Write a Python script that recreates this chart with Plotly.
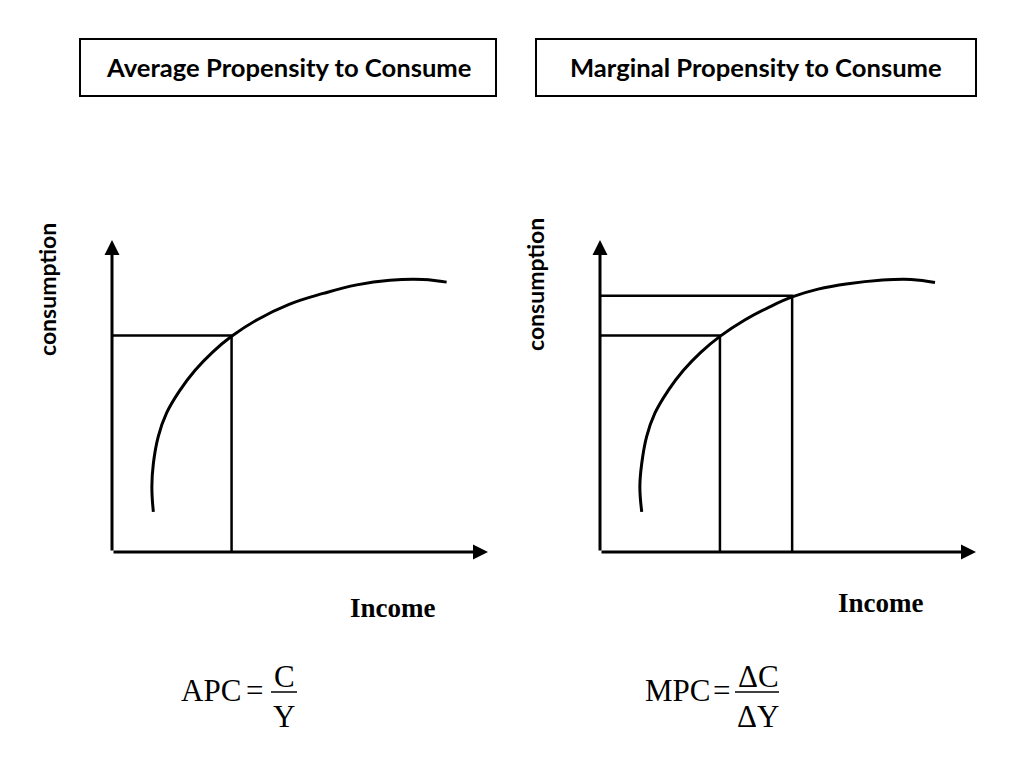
import plotly.graph_objects as go

# ---- data (diagram units: income on x, consumption on y) ----
apc_income = [1.10, 1.06, 1.10, 1.23, 1.45, 1.81, 2.21, 2.67, 3.18, 3.85, 4.71, 5.62, 6.51, 7.39, 8.28, 8.90]
apc_consumption = [1.03, 1.67, 2.27, 2.96, 3.56, 4.15, 4.66, 5.12, 5.53, 5.95, 6.35, 6.63, 6.85, 6.97, 6.99, 6.92]

mpc_income = [1.11, 1.06, 1.11, 1.24, 1.46, 1.82, 2.22, 2.68, 3.19, 3.85, 4.50, 5.11, 5.80, 6.60, 7.45, 8.28, 8.91]
mpc_consumption = [1.03, 1.67, 2.27, 2.96, 3.56, 4.15, 4.66, 5.12, 5.53, 5.95, 6.28, 6.54, 6.74, 6.88, 6.97, 6.99, 6.91]

apc_point = {"Y": 3.18, "C": 5.55}
mpc_points = [{"Y": 3.19, "C": 5.55}, {"Y": 5.11, "C": 6.57}]

axis_max = {"income": 10.0, "consumption": 8.0}

titles = ["Average Propensity to Consume", "Marginal Propensity to Consume"]
y_label = "consumption"
x_label = "Income"

# ---- figure ----
OFF = 8                      # page body margin
W, H = 1024 - 2 * OFF, 768 - 2 * OFF
PX_X, PX_Y = 37.6, 39.0      # pixels per unit
PAD = 0.5

def px(xp):
    return (xp - OFF) / W

def py(yp):
    return 1 - (yp - OFF) / H

def xdom(origin_px):
    return [px(origin_px - PAD * PX_X), px(origin_px + (axis_max["income"] + PAD) * PX_X)]

def ydom(origin_px):
    return [py(origin_px + PAD * PX_Y), py(origin_px - (axis_max["consumption"] + PAD) * PX_Y)]

fig = go.Figure()

ax_common = dict(visible=False, showgrid=False, zeroline=False, fixedrange=True)
fig.update_layout(
    width=W, height=H, margin=dict(l=0, r=0, t=0, b=0),
    paper_bgcolor="white", plot_bgcolor="white", showlegend=False,
    xaxis=dict(domain=xdom(112), range=[-PAD, axis_max["income"] + PAD], **ax_common),
    yaxis=dict(domain=ydom(552), range=[-PAD, axis_max["consumption"] + PAD], **ax_common),
    xaxis2=dict(domain=xdom(600), range=[-PAD, axis_max["income"] + PAD], anchor="y2", **ax_common),
    yaxis2=dict(domain=ydom(552), range=[-PAD, axis_max["consumption"] + PAD], anchor="x2", **ax_common),
)

line_style = dict(color="black", width=2.5)
curve_style = dict(color="black", width=3, shape="spline", smoothing=1.2)

# Left panel
fig.add_trace(go.Scatter(x=apc_income, y=apc_consumption, mode="lines", line=curve_style,
                         xaxis="x", yaxis="y", hoverinfo="skip"))
fig.add_trace(go.Scatter(x=[0, apc_point["Y"], apc_point["Y"]], y=[apc_point["C"], apc_point["C"], 0],
                         mode="lines", line=line_style, xaxis="x", yaxis="y", hoverinfo="skip"))

# Right panel
fig.add_trace(go.Scatter(x=mpc_income, y=mpc_consumption, mode="lines", line=curve_style,
                         xaxis="x2", yaxis="y2", hoverinfo="skip"))
for p in mpc_points:
    fig.add_trace(go.Scatter(x=[0, p["Y"], p["Y"]], y=[p["C"], p["C"], 0],
                             mode="lines", line=line_style, xaxis="x2", yaxis="y2", hoverinfo="skip"))

# Axes with arrowheads
for xr, yr in [("x", "y"), ("x2", "y2")]:
    fig.add_annotation(x=axis_max["income"], y=0, ax=0, ay=0, xref=xr, yref=yr, axref=xr, ayref=yr,
                       showarrow=True, arrowhead=2, arrowsize=1.0, arrowwidth=3, arrowcolor="black", text="")
    fig.add_annotation(x=0, y=axis_max["consumption"], ax=0, ay=0, xref=xr, yref=yr, axref=xr, ayref=yr,
                       showarrow=True, arrowhead=2, arrowsize=1.0, arrowwidth=3, arrowcolor="black", text="")

# Title boxes
boxes = [(80, 39, 496, 96), (536, 39, 976, 96)]
for (x0, y0, x1, y1), t in zip(boxes, titles):
    fig.add_shape(type="rect", xref="paper", yref="paper",
                  x0=px(x0), x1=px(x1), y0=py(y1), y1=py(y0),
                  line=dict(color="black", width=2), fillcolor="white")
    fig.add_annotation(x=px((x0 + x1) / 2), y=py((y0 + y1) / 2), xref="paper", yref="paper",
                       text="<b>" + t + "</b>", showarrow=False,
                       font=dict(family="Lato", size=25.6, color="black"),
                       xanchor="center", yanchor="middle")

# Y labels
for xp, yp in [(47, 290), (535, 285)]:
    fig.add_annotation(x=px(xp), y=py(yp), xref="paper", yref="paper", text="<b>" + y_label + "</b>",
                       textangle=-90, showarrow=False, xanchor="center", yanchor="middle",
                       font=dict(family="Lato", size=23, color="black"))

# X labels
for xp, yp in [(392, 608), (880, 603)]:
    fig.add_annotation(x=px(xp), y=py(yp), xref="paper", yref="paper", text="<b>" + x_label + "</b>",
                       showarrow=False, xanchor="center", yanchor="middle",
                       font=dict(family="Liberation Serif", size=27, color="black"))

# Formulas
serif = dict(family="Liberation Serif", size=31, color="black")
formulas = [
    dict(lhs="APC", eq_x=254, lhs_x=211, num="C", den="Y", frac_x=284, bar=(271, 297)),
    dict(lhs="MPC", eq_x=721, lhs_x=677, num="ΔC", den="ΔY", frac_x=758, bar=(735, 779)),
]
for f in formulas:
    fig.add_annotation(x=px(f["lhs_x"]), y=py(690), xref="paper", yref="paper", text=f["lhs"],
                       showarrow=False, xanchor="center", yanchor="middle", font=serif)
    fig.add_annotation(x=px(f["eq_x"]), y=py(690), xref="paper", yref="paper", text="=",
                       showarrow=False, xanchor="center", yanchor="middle", font=serif)
    fig.add_annotation(x=px(f["frac_x"]), y=py(676), xref="paper", yref="paper", text=f["num"],
                       showarrow=False, xanchor="center", yanchor="middle", font=serif)
    fig.add_annotation(x=px(f["frac_x"]), y=py(716), xref="paper", yref="paper", text=f["den"],
                       showarrow=False, xanchor="center", yanchor="middle", font=serif)
    fig.add_shape(type="line", xref="paper", yref="paper", x0=px(f["bar"][0]), x1=px(f["bar"][1]),
                  y0=py(692), y1=py(692), line=dict(color="black", width=1.5))

fig.write_html("out.html")
